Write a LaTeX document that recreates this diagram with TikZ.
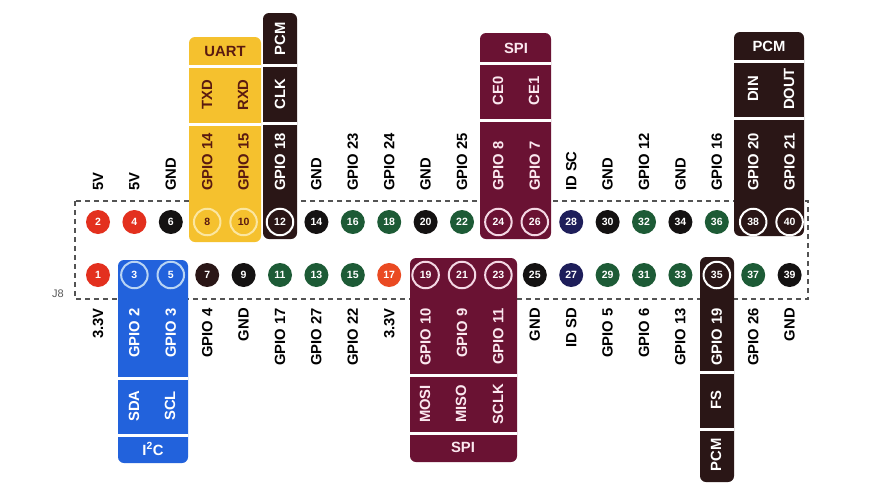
\documentclass[tikz,border=0pt]{standalone}
\usepackage{fontspec}
\setmainfont{Liberation Sans}
\definecolor{cred}{HTML}{E3301E}
\definecolor{corange}{HTML}{EA4A22}
\definecolor{cgreen}{HTML}{1D5B36}
\definecolor{cnavy}{HTML}{1E1E5A}
\definecolor{cblack}{HTML}{141212}
\definecolor{cdark}{HTML}{2A1616}
\definecolor{cmaroon}{HTML}{6A1233}
\definecolor{cyellow}{HTML}{F5C12E}
\definecolor{cblue}{HTML}{2262DC}
\definecolor{cyring}{HTML}{FBE6A0}
\definecolor{cbring}{HTML}{B8D4F4}
\definecolor{cmring}{HTML}{F4D8E4}
\definecolor{cytext}{HTML}{5A1A10}
\definecolor{cmtext}{HTML}{FBE8EF}
\newcommand\labfont{\fontsize{14.8}{15}\selectfont\bfseries}
\newcommand\pinfont{\fontsize{10.5}{11}\selectfont\bfseries}
\begin{document}
\begin{tikzpicture}[x=1pt,y=-1pt,
  pinbase/.style={circle, inner sep=0pt, font=\pinfont, text=white},
  pn/.style={pinbase, minimum size=24pt},
  pw/.style={pinbase, minimum size=26.5pt, draw=white, line width=2pt},
  pb/.style={pinbase, minimum size=26.5pt, draw=cbring, line width=2pt},
  pm/.style={pinbase, minimum size=26.5pt, draw=cmring, line width=2pt},
  py/.style={pinbase, minimum size=26.5pt, draw=cyring, line width=2pt, text=cytext},
  toplab/.style={rotate=90, anchor=west, inner sep=0pt, font=\labfont},
  botlab/.style={rotate=90, anchor=east, inner sep=0pt, font=\labfont},
  vlab/.style={rotate=90, inner sep=0pt, font=\labfont},
  hlab/.style={inner sep=0pt, font=\labfont},
  sepline/.style={white, line width=3pt},
  boxfill/.style={rounded corners=6pt}]
\useasboundingbox (0,0) rectangle (876,485);
\fill[white] (0,0) rectangle (876,485);
% header outline
\draw[gray!65!black, line width=1.1pt, dash pattern=on 5pt off 4pt] (75,201) rectangle (808,299);
\node[inner sep=0pt, font=\fontsize{11}{12}\selectfont, text=gray!70!black] (j8) at (58,294) {J8};
% boxes
\fill[cyellow, boxfill] (189,37) rectangle (261,242);
\draw[sepline] (189,66) -- (261,66);
\draw[sepline] (189,124) -- (261,124);
\fill[cdark, boxfill] (263,13) rectangle (297,239);
\draw[sepline] (263,65) -- (297,65);
\draw[sepline] (263,123) -- (297,123);
\fill[cmaroon, boxfill] (480,33) rectangle (551,239);
\draw[sepline] (480,63) -- (551,63);
\draw[sepline] (480,120) -- (551,120);
\fill[cdark, boxfill] (734,32) rectangle (804,236);
\draw[sepline] (734,61) -- (804,61);
\draw[sepline] (734,118) -- (804,118);
\fill[cblue, boxfill] (118,260) rectangle (188,463);
\draw[sepline] (118,378) -- (188,378);
\draw[sepline] (118,435) -- (188,435);
\fill[cmaroon, boxfill] (410,258) rectangle (517,462);
\draw[sepline] (410,375) -- (517,375);
\draw[sepline] (410,433) -- (517,433);
\fill[cdark, boxfill] (700,257) rectangle (734,482);
\draw[sepline] (700,372) -- (734,372);
\draw[sepline] (700,429) -- (734,429);
% pins
\foreach \n/\c/\s in {1/cred/pn, 2/cred/pn, 3/cblue/pb, 4/cred/pn, 5/cblue/pb,
  6/cblack/pn, 7/cdark/pn, 8/cyellow/py, 9/cblack/pn, 10/cyellow/py,
  11/cgreen/pn, 12/cdark/pw, 13/cgreen/pn, 14/cblack/pn, 15/cgreen/pn,
  16/cgreen/pn, 17/corange/pn, 18/cgreen/pn, 19/cmaroon/pm, 20/cblack/pn,
  21/cmaroon/pm, 22/cgreen/pn, 23/cmaroon/pm, 24/cmaroon/pm, 25/cblack/pn,
  26/cmaroon/pm, 27/cnavy/pn, 28/cnavy/pn, 29/cgreen/pn, 30/cblack/pn,
  31/cgreen/pn, 32/cgreen/pn, 33/cgreen/pn, 34/cblack/pn, 35/cdark/pw,
  36/cgreen/pn, 37/cgreen/pn, 38/cdark/pw, 39/cblack/pn, 40/cdark/pw} {
  \pgfmathtruncatemacro\k{(\n+1)/2}
  \pgfmathsetmacro\xx{98+36.4*(\k-1)}
  \pgfmathsetmacro\yy{mod(\n,2)==1 ? 275 : 222}
  \node[\s, fill=\c] (p\n) at (\xx,\yy) {\n};
}
% top labels
\foreach \k/\t/\c in {1/5V/black, 2/5V/black, 3/GND/black, 4/GPIO 14/cytext,
  5/GPIO 15/cytext, 6/GPIO 18/white, 7/GND/black, 8/GPIO 23/black, 9/GPIO 24/black,
  10/GND/black, 11/GPIO 25/black, 12/GPIO 8/cmtext, 13/GPIO 7/cmtext, 14/ID SC/black,
  15/GND/black, 16/GPIO 12/black, 17/GND/black, 18/GPIO 16/black, 19/GPIO 20/white,
  20/GPIO 21/white} {
  \pgfmathsetmacro\xx{98+36.4*(\k-1)}
  \node[toplab, text=\c] (t\k) at (\xx,191) {\t};
}
% bottom labels
\foreach \k/\t/\c in {1/3.3V/black, 2/GPIO 2/white, 3/GPIO 3/white, 4/GPIO 4/black,
  5/GND/black, 6/GPIO 17/black, 7/GPIO 27/black, 8/GPIO 22/black, 9/3.3V/black,
  10/GPIO 10/cmtext, 11/GPIO 9/cmtext, 12/GPIO 11/cmtext, 13/GND/black, 14/ID SD/black,
  15/GPIO 5/black, 16/GPIO 6/black, 17/GPIO 13/black, 18/GPIO 19/white,
  19/GPIO 26/black, 20/GND/black} {
  \pgfmathsetmacro\xx{98+36.4*(\k-1)}
  \node[botlab, text=\c] (b\k) at (\xx,308) {\t};
}
% function labels
\node[hlab, text=cytext] (uart) at (225,51) {UART};
\node[vlab, text=cytext] (txd) at (207,95) {TXD};
\node[vlab, text=cytext] (rxd) at (243,95) {RXD};
\node[vlab, text=white] (pcma) at (280,39) {PCM};
\node[vlab, text=white] (clk) at (280,94) {CLK};
\node[hlab, text=cmtext] (spia) at (516,48) {SPI};
\node[vlab, text=cmtext] (ce0) at (498,91) {CE0};
\node[vlab, text=cmtext] (ce1) at (534,91) {CE1};
\node[hlab, text=white] (pcmb) at (769,46) {PCM};
\node[vlab, text=white] (din) at (753,89) {DIN};
\node[vlab, text=white] (dout) at (789,89) {DOUT};
\node[vlab, text=white] (sda) at (134,406) {SDA};
\node[vlab, text=white] (scl) at (170,406) {SCL};
\node[hlab, text=white] (i2c) at (153,449) {I\textsuperscript{2}C};
\node[vlab, text=cmtext] (mosi) at (425,404) {MOSI};
\node[vlab, text=cmtext] (miso) at (461,404) {MISO};
\node[vlab, text=cmtext] (sclk) at (498,404) {SCLK};
\node[hlab, text=cmtext] (spib) at (463,447) {SPI};
\node[vlab, text=white] (fs) at (716,400) {FS};
\node[vlab, text=white] (pcmc) at (716,455) {PCM};
\end{tikzpicture}
\end{document}
